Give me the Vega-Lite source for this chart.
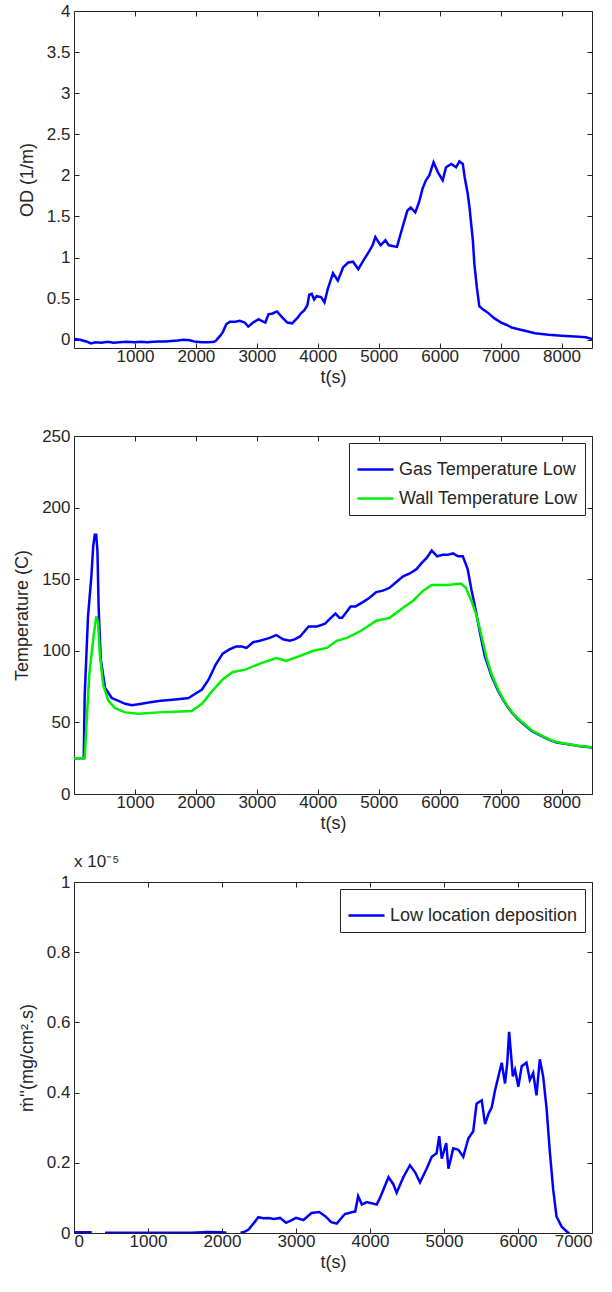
{
  "$schema": "https://vega.github.io/schema/vega-lite/v6.json",
  "background": "white",
  "padding": {"left": 13, "top": 1, "right": 10, "bottom": 5},
  "spacing": 88,
  "bounds": "flush",
  "resolve": {"scale": {"color": "independent"}, "legend": {"color": "independent"}},
  "config": {
    "font": "Liberation Sans",
    "view": {"stroke": "#262626", "strokeWidth": 1},
    "axis": {
      "grid": false, "domain": false, "tickSize": -5, "tickColor": "#262626",
      "labelColor": "#262626", "titleColor": "#262626", "labelFontSize": 17,
      "titleFontSize": 18, "titleFontWeight": "normal", "labelFont": "Liberation Sans",
      "titleFont": "Liberation Sans"
    },
    "axisX": {"labelPadding": 5, "titlePadding": 4},
    "axisY": {"labelPadding": 9, "titlePadding": 10},
    "legend": {
      "orient": "top-right", "strokeColor": "#262626", "fillColor": "white", "padding": 7,
      "offset": 7, "symbolType": "stroke", "symbolSize": 1300, "symbolStrokeWidth": 2.5,
      "labelFontSize": 18, "labelLimit": 400, "labelColor": "#262626", "rowPadding": 0, "labelOffset": 4, "cornerRadius": 0
    }
  },
  "datasets": {
    "od": [
      {"t": 0, "od": 0.01}, {"t": 100, "od": 0.0}, {"t": 200, "od": -0.02}, {"t": 280, "od": -0.045},
      {"t": 350, "od": -0.03}, {"t": 450, "od": -0.035}, {"t": 550, "od": -0.025}, {"t": 650, "od": -0.035},
      {"t": 750, "od": -0.03}, {"t": 850, "od": -0.025}, {"t": 1000, "od": -0.03}, {"t": 1100, "od": -0.025},
      {"t": 1200, "od": -0.03}, {"t": 1300, "od": -0.025}, {"t": 1400, "od": -0.02}, {"t": 1500, "od": -0.02},
      {"t": 1600, "od": -0.015}, {"t": 1700, "od": -0.01}, {"t": 1800, "od": 0.0}, {"t": 1900, "od": -0.005},
      {"t": 2000, "od": -0.025}, {"t": 2100, "od": -0.03}, {"t": 2200, "od": -0.03}, {"t": 2300, "od": -0.025},
      {"t": 2330, "od": -0.01}, {"t": 2400, "od": 0.05}, {"t": 2440, "od": 0.09}, {"t": 2500, "od": 0.19},
      {"t": 2560, "od": 0.22}, {"t": 2650, "od": 0.22}, {"t": 2720, "od": 0.23}, {"t": 2800, "od": 0.21},
      {"t": 2860, "od": 0.16}, {"t": 2940, "od": 0.21}, {"t": 3030, "od": 0.25}, {"t": 3080, "od": 0.23},
      {"t": 3140, "od": 0.21}, {"t": 3190, "od": 0.31}, {"t": 3260, "od": 0.32}, {"t": 3330, "od": 0.345},
      {"t": 3420, "od": 0.27}, {"t": 3500, "od": 0.21}, {"t": 3580, "od": 0.2}, {"t": 3670, "od": 0.27},
      {"t": 3720, "od": 0.32}, {"t": 3780, "od": 0.36}, {"t": 3830, "od": 0.42}, {"t": 3860, "od": 0.55},
      {"t": 3900, "od": 0.56}, {"t": 3940, "od": 0.49}, {"t": 3980, "od": 0.53}, {"t": 4055, "od": 0.52},
      {"t": 4110, "od": 0.455}, {"t": 4165, "od": 0.62}, {"t": 4250, "od": 0.81}, {"t": 4330, "od": 0.72},
      {"t": 4415, "od": 0.88}, {"t": 4500, "od": 0.94}, {"t": 4580, "od": 0.95}, {"t": 4665, "od": 0.86},
      {"t": 4745, "od": 0.96}, {"t": 4830, "od": 1.06}, {"t": 4900, "od": 1.15}, {"t": 4945, "od": 1.25},
      {"t": 5030, "od": 1.15}, {"t": 5110, "od": 1.21}, {"t": 5165, "od": 1.15}, {"t": 5300, "od": 1.13},
      {"t": 5360, "od": 1.29}, {"t": 5470, "od": 1.57}, {"t": 5525, "od": 1.61}, {"t": 5600, "od": 1.55},
      {"t": 5660, "od": 1.67}, {"t": 5720, "od": 1.84}, {"t": 5775, "od": 1.94}, {"t": 5830, "od": 2.0},
      {"t": 5900, "od": 2.16}, {"t": 5970, "od": 2.04}, {"t": 6050, "od": 1.94}, {"t": 6105, "od": 2.1},
      {"t": 6190, "od": 2.14}, {"t": 6270, "od": 2.1}, {"t": 6325, "od": 2.17}, {"t": 6380, "od": 2.14},
      {"t": 6410, "od": 1.98}, {"t": 6460, "od": 1.78}, {"t": 6490, "od": 1.61}, {"t": 6545, "od": 1.21},
      {"t": 6570, "od": 0.92}, {"t": 6610, "od": 0.64}, {"t": 6650, "od": 0.41}, {"t": 6710, "od": 0.37},
      {"t": 6790, "od": 0.33}, {"t": 6900, "od": 0.26}, {"t": 7010, "od": 0.21}, {"t": 7100, "od": 0.18},
      {"t": 7180, "od": 0.15}, {"t": 7345, "od": 0.12}, {"t": 7450, "od": 0.1}, {"t": 7565, "od": 0.08},
      {"t": 7785, "od": 0.06}, {"t": 8000, "od": 0.05}, {"t": 8220, "od": 0.04}, {"t": 8400, "od": 0.03},
      {"t": 8500, "od": 0.01}
    ],
    "temp": [
      {"t": 0, "series": "Gas Temperature Low", "T": 25}, {"t": 160, "series": "Gas Temperature Low", "T": 25},
      {"t": 175, "series": "Gas Temperature Low", "T": 68}, {"t": 230, "series": "Gas Temperature Low", "T": 124},
      {"t": 285, "series": "Gas Temperature Low", "T": 152}, {"t": 315, "series": "Gas Temperature Low", "T": 173},
      {"t": 340, "series": "Gas Temperature Low", "T": 181}, {"t": 365, "series": "Gas Temperature Low", "T": 181},
      {"t": 385, "series": "Gas Temperature Low", "T": 169}, {"t": 405, "series": "Gas Temperature Low", "T": 129},
      {"t": 440, "series": "Gas Temperature Low", "T": 94}, {"t": 510, "series": "Gas Temperature Low", "T": 74},
      {"t": 620, "series": "Gas Temperature Low", "T": 67}, {"t": 730, "series": "Gas Temperature Low", "T": 65},
      {"t": 840, "series": "Gas Temperature Low", "T": 63}, {"t": 950, "series": "Gas Temperature Low", "T": 62},
      {"t": 1110, "series": "Gas Temperature Low", "T": 63}, {"t": 1250, "series": "Gas Temperature Low", "T": 64},
      {"t": 1390, "series": "Gas Temperature Low", "T": 65}, {"t": 1520, "series": "Gas Temperature Low", "T": 65.5},
      {"t": 1660, "series": "Gas Temperature Low", "T": 66}, {"t": 1780, "series": "Gas Temperature Low", "T": 66.5},
      {"t": 1880, "series": "Gas Temperature Low", "T": 67}, {"t": 1990, "series": "Gas Temperature Low", "T": 70},
      {"t": 2100, "series": "Gas Temperature Low", "T": 73}, {"t": 2210, "series": "Gas Temperature Low", "T": 80},
      {"t": 2320, "series": "Gas Temperature Low", "T": 90}, {"t": 2440, "series": "Gas Temperature Low", "T": 98},
      {"t": 2550, "series": "Gas Temperature Low", "T": 101}, {"t": 2660, "series": "Gas Temperature Low", "T": 103},
      {"t": 2750, "series": "Gas Temperature Low", "T": 103}, {"t": 2830, "series": "Gas Temperature Low", "T": 102},
      {"t": 2940, "series": "Gas Temperature Low", "T": 106}, {"t": 3050, "series": "Gas Temperature Low", "T": 107},
      {"t": 3130, "series": "Gas Temperature Low", "T": 108}, {"t": 3210, "series": "Gas Temperature Low", "T": 109},
      {"t": 3320, "series": "Gas Temperature Low", "T": 111}, {"t": 3430, "series": "Gas Temperature Low", "T": 108},
      {"t": 3540, "series": "Gas Temperature Low", "T": 107}, {"t": 3620, "series": "Gas Temperature Low", "T": 108},
      {"t": 3710, "series": "Gas Temperature Low", "T": 110}, {"t": 3850, "series": "Gas Temperature Low", "T": 117},
      {"t": 3990, "series": "Gas Temperature Low", "T": 117}, {"t": 4120, "series": "Gas Temperature Low", "T": 119},
      {"t": 4190, "series": "Gas Temperature Low", "T": 122}, {"t": 4290, "series": "Gas Temperature Low", "T": 126},
      {"t": 4355, "series": "Gas Temperature Low", "T": 123}, {"t": 4400, "series": "Gas Temperature Low", "T": 123},
      {"t": 4540, "series": "Gas Temperature Low", "T": 131}, {"t": 4620, "series": "Gas Temperature Low", "T": 131},
      {"t": 4740, "series": "Gas Temperature Low", "T": 134}, {"t": 4850, "series": "Gas Temperature Low", "T": 137},
      {"t": 4960, "series": "Gas Temperature Low", "T": 141}, {"t": 5070, "series": "Gas Temperature Low", "T": 142},
      {"t": 5180, "series": "Gas Temperature Low", "T": 144}, {"t": 5290, "series": "Gas Temperature Low", "T": 148},
      {"t": 5400, "series": "Gas Temperature Low", "T": 152}, {"t": 5510, "series": "Gas Temperature Low", "T": 154},
      {"t": 5620, "series": "Gas Temperature Low", "T": 157}, {"t": 5700, "series": "Gas Temperature Low", "T": 161},
      {"t": 5790, "series": "Gas Temperature Low", "T": 165}, {"t": 5870, "series": "Gas Temperature Low", "T": 170},
      {"t": 5960, "series": "Gas Temperature Low", "T": 166}, {"t": 6050, "series": "Gas Temperature Low", "T": 167},
      {"t": 6130, "series": "Gas Temperature Low", "T": 167}, {"t": 6220, "series": "Gas Temperature Low", "T": 168},
      {"t": 6300, "series": "Gas Temperature Low", "T": 166}, {"t": 6380, "series": "Gas Temperature Low", "T": 166},
      {"t": 6460, "series": "Gas Temperature Low", "T": 157}, {"t": 6520, "series": "Gas Temperature Low", "T": 143},
      {"t": 6580, "series": "Gas Temperature Low", "T": 131}, {"t": 6660, "series": "Gas Temperature Low", "T": 113},
      {"t": 6740, "series": "Gas Temperature Low", "T": 96.5}, {"t": 6850, "series": "Gas Temperature Low", "T": 82.5},
      {"t": 6960, "series": "Gas Temperature Low", "T": 72}, {"t": 7040, "series": "Gas Temperature Low", "T": 66},
      {"t": 7120, "series": "Gas Temperature Low", "T": 60.5}, {"t": 7200, "series": "Gas Temperature Low", "T": 56},
      {"t": 7290, "series": "Gas Temperature Low", "T": 52}, {"t": 7400, "series": "Gas Temperature Low", "T": 48},
      {"t": 7510, "series": "Gas Temperature Low", "T": 44}, {"t": 7650, "series": "Gas Temperature Low", "T": 41},
      {"t": 7790, "series": "Gas Temperature Low", "T": 38}, {"t": 7920, "series": "Gas Temperature Low", "T": 36},
      {"t": 8060, "series": "Gas Temperature Low", "T": 35}, {"t": 8280, "series": "Gas Temperature Low", "T": 33.5},
      {"t": 8500, "series": "Gas Temperature Low", "T": 32.5},
      {"t": 0, "series": "Wall Temperature Low", "T": 25}, {"t": 175, "series": "Wall Temperature Low", "T": 25},
      {"t": 200, "series": "Wall Temperature Low", "T": 45}, {"t": 250, "series": "Wall Temperature Low", "T": 83},
      {"t": 315, "series": "Wall Temperature Low", "T": 108}, {"t": 365, "series": "Wall Temperature Low", "T": 124},
      {"t": 395, "series": "Wall Temperature Low", "T": 120}, {"t": 425, "series": "Wall Temperature Low", "T": 97},
      {"t": 480, "series": "Wall Temperature Low", "T": 76}, {"t": 565, "series": "Wall Temperature Low", "T": 65},
      {"t": 675, "series": "Wall Temperature Low", "T": 60}, {"t": 840, "series": "Wall Temperature Low", "T": 57},
      {"t": 1060, "series": "Wall Temperature Low", "T": 56}, {"t": 1390, "series": "Wall Temperature Low", "T": 57},
      {"t": 1660, "series": "Wall Temperature Low", "T": 57.5}, {"t": 1930, "series": "Wall Temperature Low", "T": 58},
      {"t": 2100, "series": "Wall Temperature Low", "T": 63}, {"t": 2270, "series": "Wall Temperature Low", "T": 72},
      {"t": 2440, "series": "Wall Temperature Low", "T": 80}, {"t": 2600, "series": "Wall Temperature Low", "T": 85},
      {"t": 2820, "series": "Wall Temperature Low", "T": 87}, {"t": 3050, "series": "Wall Temperature Low", "T": 91},
      {"t": 3320, "series": "Wall Temperature Low", "T": 95}, {"t": 3480, "series": "Wall Temperature Low", "T": 93},
      {"t": 3710, "series": "Wall Temperature Low", "T": 96.5}, {"t": 3930, "series": "Wall Temperature Low", "T": 100},
      {"t": 4150, "series": "Wall Temperature Low", "T": 102}, {"t": 4310, "series": "Wall Temperature Low", "T": 107},
      {"t": 4480, "series": "Wall Temperature Low", "T": 109}, {"t": 4710, "series": "Wall Temperature Low", "T": 114},
      {"t": 4960, "series": "Wall Temperature Low", "T": 121}, {"t": 5180, "series": "Wall Temperature Low", "T": 123},
      {"t": 5400, "series": "Wall Temperature Low", "T": 130}, {"t": 5565, "series": "Wall Temperature Low", "T": 135},
      {"t": 5730, "series": "Wall Temperature Low", "T": 142}, {"t": 5870, "series": "Wall Temperature Low", "T": 146},
      {"t": 6130, "series": "Wall Temperature Low", "T": 146}, {"t": 6350, "series": "Wall Temperature Low", "T": 147},
      {"t": 6430, "series": "Wall Temperature Low", "T": 144}, {"t": 6520, "series": "Wall Temperature Low", "T": 135},
      {"t": 6600, "series": "Wall Temperature Low", "T": 125.5}, {"t": 6690, "series": "Wall Temperature Low", "T": 110},
      {"t": 6770, "series": "Wall Temperature Low", "T": 95}, {"t": 6850, "series": "Wall Temperature Low", "T": 84},
      {"t": 6960, "series": "Wall Temperature Low", "T": 73}, {"t": 7040, "series": "Wall Temperature Low", "T": 66.5},
      {"t": 7120, "series": "Wall Temperature Low", "T": 61}, {"t": 7200, "series": "Wall Temperature Low", "T": 56.5},
      {"t": 7290, "series": "Wall Temperature Low", "T": 52.5}, {"t": 7400, "series": "Wall Temperature Low", "T": 48.5},
      {"t": 7510, "series": "Wall Temperature Low", "T": 44.5}, {"t": 7650, "series": "Wall Temperature Low", "T": 41.3},
      {"t": 7790, "series": "Wall Temperature Low", "T": 38.3}, {"t": 7920, "series": "Wall Temperature Low", "T": 36.3},
      {"t": 8060, "series": "Wall Temperature Low", "T": 35.2}, {"t": 8280, "series": "Wall Temperature Low", "T": 33.7},
      {"t": 8500, "series": "Wall Temperature Low", "T": 32.7}
    ],
    "dep": [
      {"t": 0, "series": "Low location deposition", "m": 2e-8}, {"t": 100, "series": "Low location deposition", "m": 2e-8},
      {"t": 240, "series": "Low location deposition", "m": 2e-8}, {"t": 320, "series": "Low location deposition", "m": null},
      {"t": 420, "series": "Low location deposition", "m": 1e-8}, {"t": 800, "series": "Low location deposition", "m": 1e-8},
      {"t": 1200, "series": "Low location deposition", "m": 1e-8}, {"t": 1600, "series": "Low location deposition", "m": 1e-8},
      {"t": 1800, "series": "Low location deposition", "m": 3e-8}, {"t": 2000, "series": "Low location deposition", "m": 2e-8},
      {"t": 2060, "series": "Low location deposition", "m": 1e-8}, {"t": 2150, "series": "Low location deposition", "m": null},
      {"t": 2250, "series": "Low location deposition", "m": 1e-8}, {"t": 2300, "series": "Low location deposition", "m": 3e-8},
      {"t": 2360, "series": "Low location deposition", "m": 1e-7}, {"t": 2440, "series": "Low location deposition", "m": 3.1e-7},
      {"t": 2490, "series": "Low location deposition", "m": 4.5e-7}, {"t": 2560, "series": "Low location deposition", "m": 4.2e-7},
      {"t": 2625, "series": "Low location deposition", "m": 4.3e-7}, {"t": 2700, "series": "Low location deposition", "m": 4.0e-7},
      {"t": 2785, "series": "Low location deposition", "m": 4.3e-7}, {"t": 2865, "series": "Low location deposition", "m": 2.9e-7},
      {"t": 2930, "series": "Low location deposition", "m": 3.5e-7}, {"t": 3000, "series": "Low location deposition", "m": 4.3e-7},
      {"t": 3100, "series": "Low location deposition", "m": 3.7e-7}, {"t": 3210, "series": "Low location deposition", "m": 5.7e-7},
      {"t": 3315, "series": "Low location deposition", "m": 6.0e-7}, {"t": 3395, "series": "Low location deposition", "m": 4.8e-7},
      {"t": 3475, "series": "Low location deposition", "m": 3.1e-7}, {"t": 3550, "series": "Low location deposition", "m": 2.7e-7},
      {"t": 3660, "series": "Low location deposition", "m": 5.4e-7}, {"t": 3765, "series": "Low location deposition", "m": 6.0e-7},
      {"t": 3800, "series": "Low location deposition", "m": 6.1e-7}, {"t": 3840, "series": "Low location deposition", "m": 1.05e-6},
      {"t": 3890, "series": "Low location deposition", "m": 8.1e-7}, {"t": 3955, "series": "Low location deposition", "m": 8.8e-7},
      {"t": 4090, "series": "Low location deposition", "m": 8.1e-7}, {"t": 4135, "series": "Low location deposition", "m": 1.0e-6},
      {"t": 4250, "series": "Low location deposition", "m": 1.59e-6}, {"t": 4315, "series": "Low location deposition", "m": 1.39e-6},
      {"t": 4360, "series": "Low location deposition", "m": 1.15e-6}, {"t": 4450, "series": "Low location deposition", "m": 1.59e-6},
      {"t": 4540, "series": "Low location deposition", "m": 1.93e-6}, {"t": 4610, "series": "Low location deposition", "m": 1.73e-6},
      {"t": 4675, "series": "Low location deposition", "m": 1.44e-6}, {"t": 4765, "series": "Low location deposition", "m": 1.83e-6},
      {"t": 4835, "series": "Low location deposition", "m": 2.17e-6}, {"t": 4900, "series": "Low location deposition", "m": 2.27e-6},
      {"t": 4935, "series": "Low location deposition", "m": 2.76e-6}, {"t": 4970, "series": "Low location deposition", "m": 2.12e-6},
      {"t": 5030, "series": "Low location deposition", "m": 2.56e-6}, {"t": 5060, "series": "Low location deposition", "m": 1.83e-6},
      {"t": 5125, "series": "Low location deposition", "m": 2.41e-6}, {"t": 5195, "series": "Low location deposition", "m": 2.37e-6},
      {"t": 5260, "series": "Low location deposition", "m": 2.17e-6}, {"t": 5330, "series": "Low location deposition", "m": 2.7e-6},
      {"t": 5395, "series": "Low location deposition", "m": 2.9e-6}, {"t": 5440, "series": "Low location deposition", "m": 3.68e-6},
      {"t": 5510, "series": "Low location deposition", "m": 3.78e-6}, {"t": 5555, "series": "Low location deposition", "m": 3.1e-6},
      {"t": 5600, "series": "Low location deposition", "m": 3.39e-6}, {"t": 5645, "series": "Low location deposition", "m": 3.58e-6},
      {"t": 5690, "series": "Low location deposition", "m": 4.07e-6}, {"t": 5735, "series": "Low location deposition", "m": 4.46e-6},
      {"t": 5780, "series": "Low location deposition", "m": 4.85e-6}, {"t": 5825, "series": "Low location deposition", "m": 4.26e-6},
      {"t": 5855, "series": "Low location deposition", "m": 4.85e-6}, {"t": 5880, "series": "Low location deposition", "m": 5.73e-6},
      {"t": 5900, "series": "Low location deposition", "m": 5.24e-6}, {"t": 5930, "series": "Low location deposition", "m": 4.46e-6},
      {"t": 5960, "series": "Low location deposition", "m": 4.65e-6}, {"t": 6005, "series": "Low location deposition", "m": 4.17e-6},
      {"t": 6050, "series": "Low location deposition", "m": 4.75e-6}, {"t": 6115, "series": "Low location deposition", "m": 4.85e-6},
      {"t": 6160, "series": "Low location deposition", "m": 4.36e-6}, {"t": 6205, "series": "Low location deposition", "m": 4.56e-6},
      {"t": 6250, "series": "Low location deposition", "m": 3.92e-6}, {"t": 6295, "series": "Low location deposition", "m": 4.95e-6},
      {"t": 6340, "series": "Low location deposition", "m": 4.46e-6}, {"t": 6385, "series": "Low location deposition", "m": 3.58e-6},
      {"t": 6430, "series": "Low location deposition", "m": 2.32e-6}, {"t": 6475, "series": "Low location deposition", "m": 1.25e-6},
      {"t": 6520, "series": "Low location deposition", "m": 4.7e-7}, {"t": 6590, "series": "Low location deposition", "m": 1.8e-7},
      {"t": 6680, "series": "Low location deposition", "m": 0}, {"t": 6700, "series": "Low location deposition", "m": 0}
    ]
  },
  "vconcat": [
    {
      "width": 518, "height": 337,
      "data": {"name": "od"},
      "layer": [
        {
          "mark": {"type": "line", "color": "#0000ff", "strokeWidth": 2.5, "clip": true},
          "encoding": {
            "x": {"field": "t", "type": "quantitative", "scale": {"domain": [0, 8500], "nice": false, "zero": false},
                  "axis": {"values": [1000, 2000, 3000, 4000, 5000, 6000, 7000, 8000], "format": "d", "title": "t(s)"}},
            "y": {"field": "od", "type": "quantitative", "scale": {"domain": [-0.1, 4], "nice": false, "zero": false},
                  "axis": {"values": [0, 0.5, 1, 1.5, 2, 2.5, 3, 3.5, 4], "format": "~g", "title": "OD (1/m)"}}
          }
        },
        {
          "mark": {"type": "line", "strokeOpacity": 0},
          "encoding": {
            "x": {"field": "t", "type": "quantitative", "axis": {"orient": "top", "labels": false, "title": null, "values": [1000, 2000, 3000, 4000, 5000, 6000, 7000, 8000]}},
            "y": {"field": "od", "type": "quantitative", "axis": {"orient": "right", "labels": false, "title": null, "values": [0, 0.5, 1, 1.5, 2, 2.5, 3, 3.5, 4]}}
          }
        }
      ],
      "resolve": {"axis": {"x": "independent", "y": "independent"}}
    },
    {
      "width": 518, "height": 358,
      "data": {"name": "temp"},
      "layer": [
        {
          "mark": {"type": "line", "strokeWidth": 2.5, "clip": true},
          "encoding": {
            "x": {"field": "t", "type": "quantitative", "scale": {"domain": [0, 8500], "nice": false, "zero": false},
                  "axis": {"values": [1000, 2000, 3000, 4000, 5000, 6000, 7000, 8000], "format": "d", "title": "t(s)"}},
            "y": {"field": "T", "type": "quantitative", "scale": {"domain": [0, 250], "nice": false},
                  "axis": {"values": [0, 50, 100, 150, 200, 250], "title": "Temperature (C)"}},
            "color": {"field": "series", "type": "nominal",
                      "scale": {"domain": ["Gas Temperature Low", "Wall Temperature Low"], "range": ["#0000ff", "#00f000"]},
                      "legend": {"title": null}}
          }
        },
        {
          "mark": {"type": "line", "strokeOpacity": 0},
          "encoding": {
            "x": {"field": "t", "type": "quantitative", "axis": {"orient": "top", "labels": false, "title": null, "values": [1000, 2000, 3000, 4000, 5000, 6000, 7000, 8000]}},
            "y": {"field": "T", "type": "quantitative", "axis": {"orient": "right", "labels": false, "title": null, "values": [0, 50, 100, 150, 200, 250]}}
          }
        }
      ],
      "resolve": {"axis": {"x": "independent", "y": "independent"}}
    },
    {
      "width": 518, "height": 351,
      "title": {"text": "x 10⁻⁵", "anchor": "start", "frame": "group", "fontSize": 17, "fontWeight": "normal", "color": "#262626", "offset": 2},
      "data": {"name": "dep"},
      "layer": [
        {
          "mark": {"type": "line", "strokeWidth": 2.5, "clip": true},
          "encoding": {
            "x": {"field": "t", "type": "quantitative", "scale": {"domain": [0, 7000], "nice": false, "zero": false},
                  "axis": {"values": [0, 1000, 2000, 3000, 4000, 5000, 6000, 7000], "format": "d", "title": "t(s)"}},
            "y": {"field": "m", "type": "quantitative", "scale": {"domain": [0, 0.00001], "nice": false},
                  "axis": {"values": [0, 0.000002, 0.000004, 0.000006, 0.000008, 0.00001], "labelExpr": "format(datum.value * 100000, '~g')", "title": "ṁ''(mg/cm².s)"}},
            "color": {"field": "series", "type": "nominal",
                      "scale": {"domain": ["Low location deposition"], "range": ["#0000ff"]},
                      "legend": {"title": null}}
          }
        },
        {
          "mark": {"type": "line", "strokeOpacity": 0},
          "encoding": {
            "x": {"field": "t", "type": "quantitative", "axis": {"orient": "top", "labels": false, "title": null, "values": [0, 1000, 2000, 3000, 4000, 5000, 6000, 7000]}},
            "y": {"field": "m", "type": "quantitative", "axis": {"orient": "right", "labels": false, "title": null, "values": [0, 0.000002, 0.000004, 0.000006, 0.000008, 0.00001]}}
          }
        }
      ],
      "resolve": {"axis": {"x": "independent", "y": "independent"}}
    }
  ]
}
